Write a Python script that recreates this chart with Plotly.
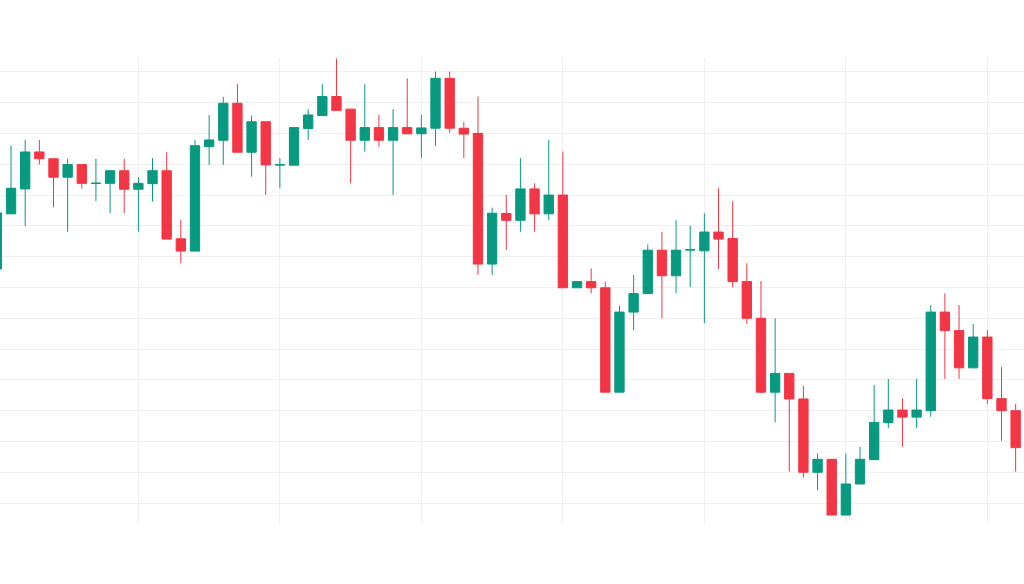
import plotly.graph_objects as go

session = list(range(73))

open_ = [176.0, 193.9, 202.0, 214.0, 211.8, 205.8, 209.9, 203.75, 203.8, 207.9,
         201.9, 203.7, 207.9, 185.8, 181.8, 215.7, 217.8, 229.8, 213.9, 223.8,
         209.75, 209.7, 221.6, 225.8, 232.0, 227.9, 217.8, 221.9, 217.8, 221.9,
         219.9, 221.7, 237.9, 221.7, 220.0, 177.6, 194.0, 191.8, 202.0, 193.9,
         200.0, 169.9, 171.9, 169.9, 136.0, 162.0, 168.0, 182.1, 173.8, 182.15,
         181.9, 188.0, 185.9, 171.9, 160.0, 136.0, 142.1, 133.8, 110.0, 114.2,
         96.1, 106.2, 114.1, 126.1, 130.2, 127.9, 130.0, 162.0, 156.0, 143.9,
         153.9, 133.9, 130.0]

high = [195.8, 216.0, 217.9, 217.9, 211.8, 211.8, 209.9, 211.8, 207.9, 211.8,
        205.8, 212.0, 214.0, 191.9, 217.9, 226.0, 231.9, 236.0, 225.8, 223.8,
        212.0, 221.9, 227.9, 236.0, 244.3, 227.9, 236.0, 226.0, 227.9, 237.9,
        226.0, 240.1, 240.1, 223.8, 232.0, 195.9, 200.0, 212.0, 203.8, 217.9,
        214.1, 171.9, 176.2, 171.9, 164.1, 174.1, 184.0, 188.1, 191.9, 190.1,
        194.1, 202.2, 198.0, 177.9, 172.1, 160.0, 142.1, 138.1, 116.1, 114.2,
        116.1, 118.3, 138.3, 140.3, 134.0, 140.3, 164.3, 168.1, 164.3, 158.1,
        156.2, 144.1, 132.2]

low = [175.4, 193.9, 190.0, 209.9, 196.0, 188.1, 202.1, 198.0, 194.1, 194.1,
       188.1, 197.9, 185.7, 177.9, 181.8, 209.8, 209.8, 213.9, 206.0, 200.0,
       202.2, 209.7, 217.9, 225.8, 227.5, 203.8, 214.1, 215.7, 200.0, 219.9,
       212.0, 216.0, 220.1, 212.0, 174.1, 174.1, 182.2, 188.1, 188.1, 191.9,
       169.9, 169.9, 168.1, 136.0, 136.0, 156.2, 168.0, 160.0, 168.1, 170.1,
       158.4, 176.0, 170.1, 158.1, 135.7, 126.2, 110.2, 108.3, 104.2, 96.1,
       96.1, 106.2, 114.1, 124.3, 118.3, 124.3, 128.0, 140.3, 140.3, 143.9,
       132.2, 120.2, 110.2]

close = [194.2, 202.2, 214.0, 211.8, 205.8, 209.9, 203.8, 203.85, 207.9, 201.9,
         203.8, 207.9, 185.7, 181.8, 216.0, 217.9, 229.8, 213.9, 223.8, 209.8,
         209.85, 221.9, 226.0, 232.0, 227.5, 217.8, 221.9, 217.8, 221.9, 219.9,
         221.8, 237.9, 221.7, 219.8, 177.6, 194.1, 191.8, 202.0, 193.9, 200.0,
         169.9, 171.9, 169.9, 136.0, 162.0, 168.0, 182.1, 173.8, 182.1, 182.25,
         188.0, 185.7, 171.9, 160.0, 136.0, 142.1, 133.8, 110.0, 114.2, 96.1,
         106.2, 114.2, 126.2, 130.2, 127.9, 130.2, 162.0, 156.0, 143.9, 153.9,
         133.9, 130.0, 118.0]

UP = "#089981"
DOWN = "#f23645"
GRID = "#f0f0f2"

fig = go.Figure(go.Candlestick(
    x=session, open=open_, high=high, low=low, close=close,
    increasing=dict(line=dict(color=UP, width=1), fillcolor=UP),
    decreasing=dict(line=dict(color=DOWN, width=1), fillcolor=DOWN),
    whiskerwidth=0,
    showlegend=False,
    hoverinfo="none",
))

fig.update_layout(
    width=1024, height=584,
    margin=dict(l=0, r=0, t=58, b=60),
    paper_bgcolor="white", plot_bgcolor="white",
    boxgap=0.34, boxgroupgap=0,
    showlegend=False,
)
fig.update_xaxes(
    range=[0.22, 72.59], tick0=0, dtick=10,
    showgrid=True, gridcolor=GRID, gridwidth=1,
    showticklabels=False, zeroline=False, showline=False, ticks="",
    rangeslider=dict(visible=False),
)
fig.update_yaxes(
    range=[93.2, 244.5], tick0=0, dtick=10,
    showgrid=True, gridcolor=GRID, gridwidth=1,
    showticklabels=False, zeroline=False, showline=False, ticks="",
)

fig.write_html("out.html")
